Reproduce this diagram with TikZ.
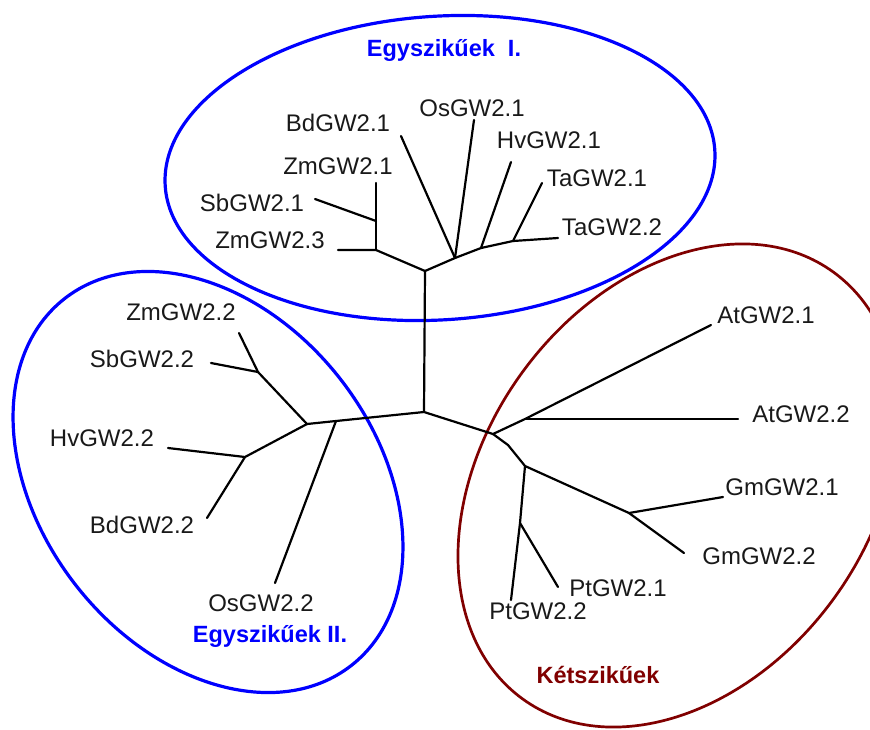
\documentclass[tikz,border=0pt]{standalone}
\usepackage{fontspec}
\setmainfont{Liberation Sans}
\definecolor{grpblue}{RGB}{0,0,255}
\definecolor{grpred}{RGB}{128,0,0}
\begin{document}
\begin{tikzpicture}[x=1pt,y=-1pt,
  br/.style={line width=2.2pt, line join=round, line cap=round},
  lab/.style={font=\fontsize{24}{28}\selectfont, inner sep=0pt, text=black!90},
  ttl/.style={font=\fontsize{23.5}{28}\selectfont\bfseries, inner sep=0pt}]
\useasboundingbox (0,0) rectangle (870,729);
\clip (0,0) rectangle (870,729);
% group ellipses
\draw[grpblue, line width=3.2pt, rotate around={3.75:(440,168)}] (440,168) ellipse [x radius=275.4pt, y radius=151.8pt];
\draw[grpblue, line width=3.2pt, rotate around={-52:(208,482)}] (208,482) ellipse [x radius=232.8pt, y radius=167.7pt];
\draw[grpred, line width=2.7pt, rotate around={53.85:(678,485.5)}] (678,485.5) ellipse [x radius=264pt, y radius=192.5pt];
% junctions
\coordinate (C) at (424,412);
\coordinate (U) at (425,271);
\coordinate (Z) at (376,250);
\coordinate (Zs) at (376,221);
\coordinate (O) at (455,258);
\coordinate (H) at (481,248);
\coordinate (T) at (513,241);
\coordinate (A) at (336,421);
\coordinate (B) at (307,424);
\coordinate (S) at (258,372);
\coordinate (Hj) at (245,457);
\coordinate (D) at (493,434);
\coordinate (At) at (525,419);
\coordinate (Bend) at (508,445);
\coordinate (P) at (525,466);
\coordinate (Gm) at (629,513);
\coordinate (Pt) at (520,523);
% leaf ends
\coordinate (lZm1) at (376,183);
\coordinate (lSb1) at (315,199);
\coordinate (lZm3) at (338,250);
\coordinate (lBd1) at (401,136);
\coordinate (lOs1) at (474,120);
\coordinate (lHv1) at (511,162);
\coordinate (lTa1) at (542,183);
\coordinate (lTa2) at (558,238);
\coordinate (lZm2) at (239,333);
\coordinate (lSb2) at (211,363);
\coordinate (lHv2) at (168,448);
\coordinate (lBd2) at (207,518);
\coordinate (lOs2) at (275,583);
\coordinate (lAt1) at (711,325);
\coordinate (lAt2) at (738,419);
\coordinate (lGm1) at (723,497);
\coordinate (lGm2) at (684,553);
\coordinate (lPt1) at (558,587);
\coordinate (lPt2) at (511,600);
% branches
\draw[br] (C) -- (U);
\draw[br] (U) -- (Z) -- (lZm3);
\draw[br] (Z) -- (Zs) -- (lZm1);
\draw[br] (Zs) -- (lSb1);
\draw[br] (U) -- (O) -- (lBd1);
\draw[br] (O) -- (lOs1);
\draw[br] (O) -- (H) -- (lHv1);
\draw[br] (H) -- (T) -- (lTa1);
\draw[br] (T) -- (lTa2);
\draw[br] (C) -- (A) -- (B) -- (S) -- (lZm2);
\draw[br] (S) -- (lSb2);
\draw[br] (A) -- (lOs2);
\draw[br] (B) -- (Hj) -- (lHv2);
\draw[br] (Hj) -- (lBd2);
\draw[br] (C) -- (D) -- (At) -- (lAt1);
\draw[br] (At) -- (lAt2);
\draw[br] (D) -- (Bend) -- (P) -- (Gm) -- (lGm1);
\draw[br] (Gm) -- (lGm2);
\draw[br] (P) -- (Pt) -- (lPt2);
\draw[br] (Pt) -- (lPt1);
% labels
\node[lab] (tBd1) at (338,123) {BdGW2.1};
\node[lab] (tOs1) at (472,108) {OsGW2.1};
\node[lab] (tHv1) at (549,140) {HvGW2.1};
\node[lab] (tTa1) at (597,178) {TaGW2.1};
\node[lab] (tTa2) at (612,227) {TaGW2.2};
\node[lab] (tZm1) at (338,166) {ZmGW2.1};
\node[lab] (tSb1) at (252,203) {SbGW2.1};
\node[lab] (tZm3) at (270,240) {ZmGW2.3};
\node[lab] (tZm2) at (181,312) {ZmGW2.2};
\node[lab] (tSb2) at (142,359) {SbGW2.2};
\node[lab] (tHv2) at (102,438) {HvGW2.2};
\node[lab] (tBd2) at (142,525) {BdGW2.2};
\node[lab] (tOs2) at (261,603) {OsGW2.2};
\node[lab] (tAt1) at (766,315) {AtGW2.1};
\node[lab] (tAt2) at (801,414) {AtGW2.2};
\node[lab] (tGm1) at (782,487) {GmGW2.1};
\node[lab] (tGm2) at (759,556) {GmGW2.2};
\node[lab] (tPt1) at (618,588) {PtGW2.1};
\node[lab] (tPt2) at (538,611) {PtGW2.2};
% group titles
\node[ttl, text=grpblue] (g1) at (444,50) {Egyszikűek\ \ I.};
\node[ttl, text=grpblue] (g2) at (270,636) {Egyszikűek II.};
\node[ttl, text=grpred] (g3) at (598,675) {Kétszikűek};
\end{tikzpicture}
\end{document}
